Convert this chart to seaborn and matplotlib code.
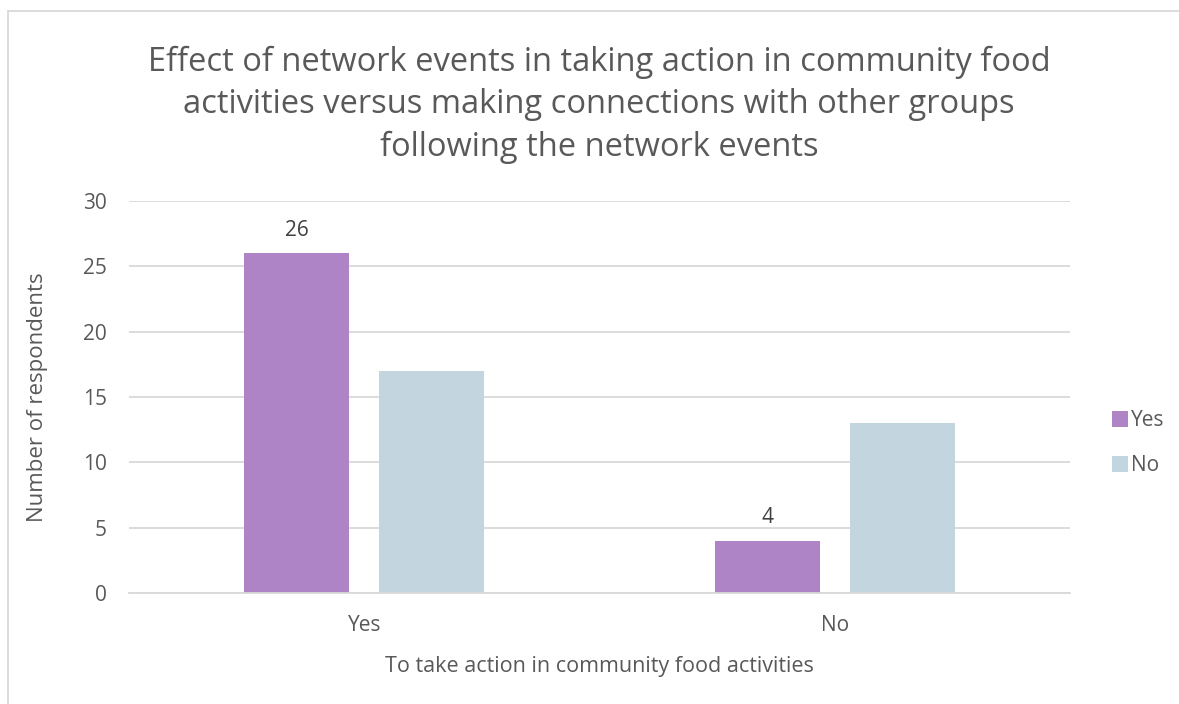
import matplotlib
matplotlib.use("Agg")
import matplotlib.pyplot as plt
import seaborn as sns
import pandas as pd
from matplotlib.lines import Line2D

# Survey answers: action taken (x categories) vs. connections made (hue)
categories = ["Yes", "No"]
connection_groups = ["Yes", "No"]
yes_values = [26, 4]
no_values = [17, 13]

title = ("Effect of network events in taking action in community food\n"
         "activities versus making connections with other groups\n"
         "following the network events")
x_label = "To take action in community food activities"
y_label = "Number of respondents"

df = pd.DataFrame({
    "action": categories * 2,
    "connections": [connection_groups[0]] * 2 + [connection_groups[1]] * 2,
    "count": yes_values + no_values,
})

sns.set_theme(style="white")
plt.rcParams["font.family"] = ["Open Sans", "DejaVu Sans"]
text_color = "#595959"

fig = plt.figure(figsize=(11.79, 7.04), dpi=100)
ax = fig.add_axes([0.1094, 0.1577, 0.7982, 0.5568])

palette = {"Yes": "#AE84C6", "No": "#C3D6E0"}
sns.barplot(data=df, x="action", y="count", hue="connections",
            order=categories, hue_order=connection_groups,
            palette=palette, width=0.574, gap=0.22, saturation=1,
            linewidth=0, ax=ax, legend=False)

ax.set_xlim(-0.5, 1.5)
ax.set_ylim(0, 30)
ax.set_yticks(range(0, 31, 5))
ax.yaxis.grid(True, color="#D9D9D9", linewidth=1.3)
ax.set_axisbelow(True)
for side in ["top", "right", "left"]:
    ax.spines[side].set_visible(False)
ax.spines["bottom"].set_color("#D9D9D9")
ax.spines["bottom"].set_linewidth(1.3)
ax.tick_params(axis="both", length=0, labelsize=15, labelcolor=text_color)
ax.tick_params(axis="y", pad=16)
ax.tick_params(axis="x", pad=16)

ax.set_xlabel(x_label, fontsize=15.5, color=text_color, labelpad=14)
ax.set_ylabel(y_label, fontsize=16, color=text_color, labelpad=25)

# Value labels on the first series only
ax.bar_label(ax.containers[0], fontsize=15, color="#404040", padding=9)

fig.text(0.508, 0.935, title, ha="center", va="top", fontsize=23.5,
         color=text_color, linespacing=1.38)

handles = [Line2D([0], [0], marker="s", linestyle="none", markersize=12,
                  markerfacecolor=palette[g], markeredgewidth=0)
           for g in connection_groups]
leg = fig.legend(handles, connection_groups, loc="center left",
                 bbox_to_anchor=(0.925, 0.371), frameon=False,
                 fontsize=15, handletextpad=0.05, labelspacing=1.15,
                 handlelength=1.0)
for t in leg.get_texts():
    t.set_color(text_color)

# Chart frame edges visible at the top and left
fig.add_artist(Line2D([8 / 1179, 8 / 1179], [0, 1 - 11 / 704],
                      transform=fig.transFigure, color="#D9D9D9", linewidth=1.3))
fig.add_artist(Line2D([8 / 1179, 1], [1 - 11 / 704, 1 - 11 / 704],
                      transform=fig.transFigure, color="#D9D9D9", linewidth=1.3))

fig.savefig("out.png", dpi=100, facecolor="white")
